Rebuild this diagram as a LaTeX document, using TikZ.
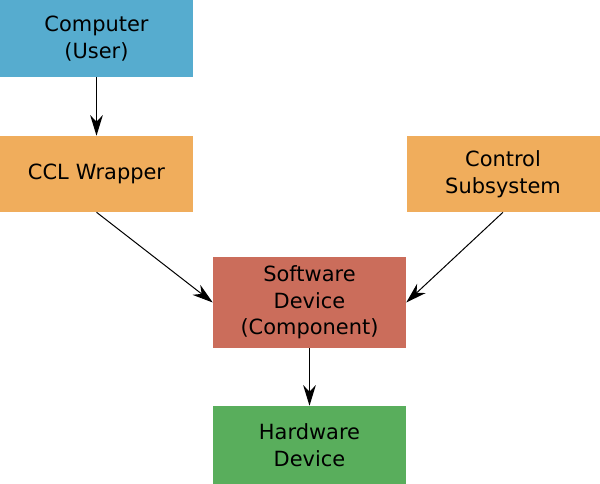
\documentclass[tikz,border=0pt]{standalone}
\usepackage{fontspec}
\setmainfont{DejaVu Sans}
\usetikzlibrary{arrows.meta}
\definecolor{userblue}{HTML}{56ACCF}
\definecolor{wraporange}{HTML}{F0AD5C}
\definecolor{swred}{HTML}{CB6D5B}
\definecolor{hwgreen}{HTML}{59AE5C}
\tikzset{
  blk/.style = {inner sep=0pt, align=center, text width=140pt,
    minimum width=144.75pt, font=\fontsize{15.7}{20}\selectfont},
  link/.style = {black, line width=0.75pt, -{Stealth[length=15.5pt, width=9.5pt, inset=5pt]}}
}

\begin{document}
\begin{tikzpicture} [x=0.75pt, y=-0.75pt]
\useasboundingbox (0,0) rectangle (600,484);
\node[blk, fill=userblue, minimum height=57.75pt] (user) at (96.5,38.5) {Computer\\(User)};
\node[blk, fill=wraporange, minimum height=57pt] (ccl) at (96.5,174) {CCL Wrapper};
\node[blk, fill=wraporange, minimum height=57pt] (ctrl) at (503,174) {Control\\Subsystem};
\node[blk, fill=swred, minimum height=68.25pt] (sw) at (309.5,302.5) {Software\\Device\\(Component)};
\node[blk, fill=hwgreen, minimum height=58.5pt] (hw) at (309.5,445) {Hardware\\Device};
\draw[link] (user) -- (ccl);
\draw[link] (ccl.south) -- (sw.west);
\draw[link] (ctrl.south) -- (sw.east);
\draw[link] (sw) -- (hw);
\end{tikzpicture}
\end{document}
